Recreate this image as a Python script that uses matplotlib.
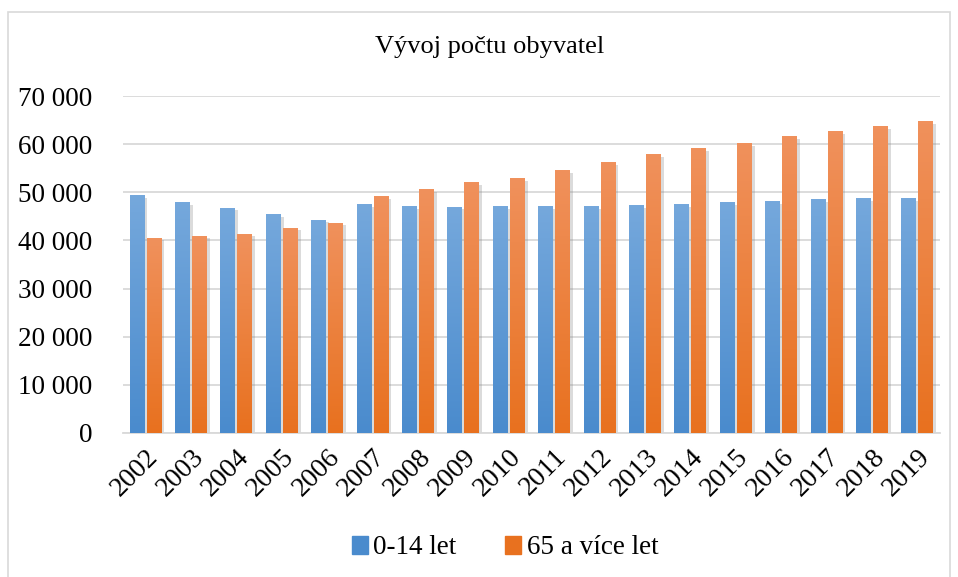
import matplotlib.pyplot as plt
import matplotlib.patheffects as pe
from matplotlib.patches import Rectangle
from matplotlib.colors import LinearSegmentedColormap
from matplotlib.ticker import FuncFormatter
import numpy as np

years = ['2002', '2003', '2004', '2005', '2006', '2007', '2008', '2009', '2010',
         '2011', '2012', '2013', '2014', '2015', '2016', '2017', '2018', '2019']
kids = [49340, 47890, 46650, 45400, 44160, 47480, 47060, 46860, 47060,
        47060, 47060, 47270, 47480, 47890, 48100, 48510, 48720, 48720]
seniors = [40430, 40850, 41260, 42510, 43540, 49130, 50580, 52030, 52860,
           54510, 56170, 57830, 59070, 60100, 61550, 62590, 63620, 64660]
labels = ['0-14 let', '65 a více let']

plt.rcParams['font.family'] = ['Liberation Serif', 'DejaVu Serif']

fig = plt.figure(figsize=(9.58, 5.77), dpi=100)
fig.patches.append(Rectangle((8 / 958, -0.1), 942 / 958, 1.1 - 12 / 577,
                             transform=fig.transFigure, fill=False,
                             edgecolor='#d9d9d9', linewidth=1.2))
ax = fig.add_axes([123 / 958, 1 - 433 / 577, 817 / 958, 337 / 577])

x = np.arange(len(years))
w = 0.33
gap = 0.045
blue_cm = LinearSegmentedColormap.from_list('b', ['#4a8bcd', '#75a8dc'])
orange_cm = LinearSegmentedColormap.from_list('o', ['#e8711f', '#f0915c'])
grad = np.linspace(0, 1, 100).reshape(-1, 1)

# soft drop shadow like the Excel original
shadow = [pe.SimplePatchShadow(offset=(2, -1.5), shadow_rgbFace='#888888', alpha=0.3), pe.Normal()]
b1 = ax.bar(x - w / 2 - gap / 2, kids, w, color='#4a8bcd', label=labels[0], zorder=2)
b2 = ax.bar(x + w / 2 + gap / 2, seniors, w, color='#e8711f', label=labels[1], zorder=2)
for bars, cm in ((b1, blue_cm), (b2, orange_cm)):
    for r in bars:
        r.set_path_effects(shadow)
        x0 = r.get_x()
        ax.imshow(grad, extent=[x0, x0 + r.get_width(), 0, r.get_height()],
                  aspect='auto', cmap=cm, origin='lower', zorder=3)

ax.set_xlim(-0.5, len(years) - 0.5)
ax.set_ylim(0, 70000)
ax.set_yticks(range(0, 70001, 10000))
ax.yaxis.set_major_formatter(FuncFormatter(lambda v, p: f'{int(v):,}'.replace(',', ' ')))
ax.set_xticks(x)
ax.set_xticklabels(years, rotation=45, ha='right', va='top', rotation_mode='anchor')
ax.tick_params(length=0, labelsize=20, pad=8)
ax.tick_params(axis='y', labelsize=19.5, pad=22)
ax.grid(axis='y', color='#d9d9d9', linewidth=1.3, zorder=0)
ax.set_axisbelow(True)
for s in ['top', 'right', 'left']:
    ax.spines[s].set_visible(False)
ax.spines['bottom'].set_color('#d9d9d9')
ax.spines['bottom'].set_linewidth(1.3)

fig.text(490 / 958, 1 - 47 / 577, 'Vývoj počtu obyvatel', ha='center', va='center', fontsize=19)

fig.legend(handles=[Rectangle((0, 0), 1, 1, color='#4a8bcd'), Rectangle((0, 0), 1, 1, color='#e8711f')],
           labels=labels, loc='center', bbox_to_anchor=(505 / 958, 1 - 548 / 577), ncol=2,
           frameon=False, fontsize=19.5, handlelength=0.6, handleheight=0.6,
           handletextpad=0.2, columnspacing=1.8)

fig.savefig('out.png', dpi=100)
